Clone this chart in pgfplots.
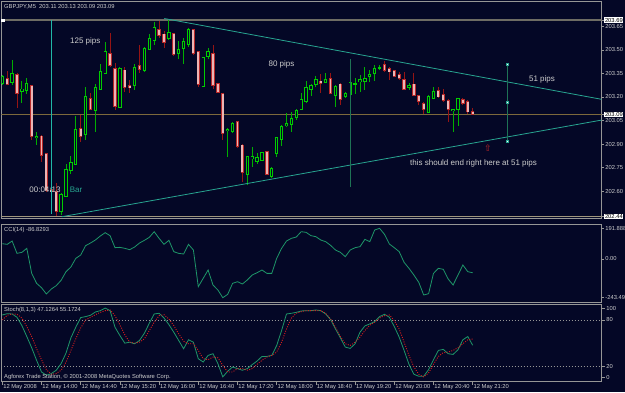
\documentclass[border=0pt]{standalone}
\usepackage{pgfplots}
\pgfplotsset{compat=1.18}
\usepackage{pgfplotstable}
\usepackage{fontspec}
\setmainfont{Liberation Sans}
\newfontfamily\symfont{DejaVu Sans}
\definecolor{bg}{RGB}{4,7,38}
\definecolor{frame}{RGB}{150,150,150}
\definecolor{txt}{RGB}{205,205,205}
\definecolor{bullc}{RGB}{0,205,0}
\definecolor{bullw}{RGB}{0,175,0}
\definecolor{bearc}{RGB}{185,40,40}
\definecolor{bearf}{RGB}{235,180,180}
\definecolor{bearw}{RGB}{150,20,20}
\definecolor{tealA}{RGB}{40,165,145}
\definecolor{tealB}{RGB}{30,115,85}
\definecolor{ind}{RGB}{30,150,105}
\definecolor{sig}{RGB}{210,30,30}
\definecolor{hlineA}{RGB}{110,108,100}
\definecolor{hlineB}{RGB}{160,150,125}
\definecolor{bidline}{RGB}{125,105,60}
\newcommand{\smallf}{\fontsize{5.8}{7}\selectfont}
\newcommand{\annf}{\fontsize{8}{9.5}\selectfont}

\pgfplotstableread{
i o h l c
0 203.287 203.340 203.276 203.329
2 203.291 203.436 203.276 203.351
4 203.234 203.302 203.160 203.251
5 203.240 203.319 203.223 203.283
7 202.941 202.979 202.894 202.947
12 202.470 202.591 202.448 202.582
13 202.569 202.777 202.565 202.739
14 202.731 202.824 202.709 202.782
15 202.771 203.079 202.767 202.994
17 202.962 203.261 202.926 203.202
19 203.113 203.283 202.979 203.259
20 203.249 203.408 203.244 203.363
21 203.351 203.552 203.346 203.491
24 203.132 203.393 203.128 203.382
27 203.272 203.410 203.244 203.389
29 203.368 203.516 203.361 203.510
30 203.503 203.605 203.499 203.574
31 203.559 203.680 203.531 203.644
34 203.574 203.690 203.567 203.612
36 203.478 203.559 203.440 203.503
37 203.510 203.574 203.414 203.550
38 203.535 203.637 203.520 203.631
41 203.270 203.457 203.266 203.452
42 203.461 203.510 203.446 203.489
46 202.985 203.000 202.820 202.994
47 202.979 203.043 202.973 203.032
50 202.709 202.824 202.639 202.820
51 202.809 202.884 202.752 202.820
52 202.788 202.841 202.773 202.813
53 202.799 202.852 202.794 202.845
55 202.697 202.752 202.682 202.746
56 202.841 202.947 202.820 202.943
57 202.930 203.022 202.888 203.015
58 203.017 203.100 203.007 203.032
59 203.022 203.106 202.979 203.064
60 203.070 203.121 203.053 203.117
61 203.121 203.223 203.117 203.185
62 203.170 203.304 203.164 203.261
63 203.249 203.283 203.206 203.274
64 203.278 203.334 203.266 203.314
66 203.291 203.351 203.287 203.314
68 203.213 203.276 203.138 203.270
70 203.202 203.234 203.196 203.223
71 203.213 203.298 203.206 203.291
72 203.283 203.319 203.223 203.287
73 203.298 203.340 203.234 203.314
74 203.298 203.389 203.244 203.321
75 203.329 203.372 203.298 203.346
76 203.351 203.404 203.302 203.382
77 203.385 203.404 203.372 203.389
83 203.261 203.291 203.244 203.274
87 203.100 203.213 203.096 203.206
88 203.191 203.261 203.185 203.234
92 203.113 203.126 202.979 203.121
93 203.121 203.198 203.015 203.191
}\bull

\pgfplotstableread{
i o h l c
1 203.319 203.365 203.276 203.283
3 203.344 203.351 203.132 203.223
6 203.274 203.278 202.926 202.951
8 202.951 202.958 202.788 202.830
9 202.837 202.841 202.597 202.608
10 202.608 202.612 202.586 202.597
11 202.597 202.654 202.442 202.470
16 203.000 203.085 202.915 202.951
18 203.191 203.223 203.117 203.121
22 203.478 203.605 203.393 203.404
23 203.382 203.414 203.117 203.138
25 203.372 203.393 203.234 203.261
26 203.272 203.312 203.227 203.259
28 203.399 203.531 203.351 203.378
32 203.631 203.684 203.578 203.595
33 203.601 203.622 203.510 203.548
35 203.605 203.610 203.461 203.472
39 203.627 203.631 203.467 203.478
40 203.489 203.493 203.266 203.283
43 203.478 203.531 203.255 203.276
44 203.283 203.287 203.223 203.230
45 203.223 203.227 202.926 202.968
48 203.043 203.047 202.879 202.884
49 202.894 202.898 202.661 202.720
54 202.852 202.856 202.705 202.709
65 203.302 203.346 203.223 203.287
67 203.319 203.351 203.219 203.223
69 203.283 203.291 203.149 203.185
78 203.404 203.431 203.361 203.368
79 203.382 203.393 203.308 203.361
80 203.368 203.372 203.329 203.334
81 203.344 203.361 203.308 203.319
82 203.312 203.361 203.244 203.249
84 203.283 203.351 203.206 203.213
85 203.206 203.213 203.149 203.170
86 203.160 203.170 203.092 203.121
89 203.240 203.261 203.191 203.202
90 203.213 203.249 203.170 203.181
91 203.177 203.191 203.043 203.121
94 203.185 203.191 203.149 203.160
95 203.170 203.181 203.092 203.106
96 203.110 203.130 203.090 203.090
}\bear

\pgfplotstableread{
i cci sk sd
0 95.5 86.4 79.9
1 91.4 88.1 86.0
2 112.3 87.7 87.7
3 34.9 83.4 87.3
4 41.2 72.6 82.5
5 66.3 58.4 71.4
6 -90.6 43.8 58.4
7 -153.3 27.5 42.5
8 -180.5 12.4 28.3
9 -220.2 8.1 15.4
10 -188.9 10.3 9.4
11 -168.0 14.6 10.3
12 -134.5 23.2 14.6
13 -80.1 36.9 24.9
14 -50.8 56.7 40.4
15 3.5 70.5 55.4
16 24.4 83.0 69.6
17 83.0 84.3 79.9
18 99.7 86.0 83.4
19 118.6 90.3 86.8
20 143.6 92.0 89.8
21 164.6 95.4 92.0
22 145.7 92.0 92.9
23 70.5 70.5 85.5
24 72.5 59.7 73.5
25 66.3 49.8 60.6
26 57.9 51.1 51.1
27 74.6 49.0 49.8
28 99.7 53.3 51.1
29 116.5 62.7 55.4
30 135.3 75.7 66.2
31 170.8 87.7 77.0
32 129.0 88.6 85.5
33 91.4 82.5 86.8
34 116.5 73.9 81.2
35 45.4 64.0 72.6
36 34.9 53.3 61.9
37 30.7 42.5 52.4
38 91.4 54.2 49.0
39 55.8 51.1 49.0
40 -174.2 29.6 40.4
41 -121.9 25.3 29.6
42 -69.7 33.9 28.3
43 -163.8 36.1 31.8
44 -195.1 23.2 30.9
45 -243.4 6.0 21.0
46 -222.3 13.3 12.4
47 -153.3 18.9 12.4
48 -142.9 16.7 16.7
49 -157.5 14.6 16.7
50 -132.4 16.7 14.6
51 -101.0 21.9 16.7
52 -86.4 26.6 22.3
53 -69.7 32.6 27.5
54 -90.6 32.6 31.8
55 -90.6 33.9 33.9
56 3.5 46.8 38.2
57 66.3 66.2 51.1
58 112.3 87.7 68.3
59 129.0 88.6 82.5
60 137.4 89.8 88.6
61 170.8 91.6 90.7
62 166.7 92.0 92.0
63 145.7 92.0 92.0
64 139.5 92.9 92.0
65 118.6 92.0 92.0
66 108.1 87.7 88.6
67 85.1 80.4 81.2
68 55.8 68.3 70.5
69 41.2 56.7 58.4
70 14.0 44.7 49.0
71 55.8 43.0 46.8
72 70.5 49.0 51.1
73 76.7 64.0 57.6
74 122.7 72.2 66.2
75 108.1 74.8 73.1
76 181.3 77.8 77.0
77 191.9 84.3 82.5
78 154.1 87.3 85.5
79 93.5 83.4 86.4
80 70.5 71.4 79.1
81 45.4 57.6 68.3
82 -21.6 40.4 51.1
83 -59.2 22.3 33.9
84 -101.0 9.4 18.9
85 -147.0 6.8 9.4
86 -226.5 6.8 6.0
87 -218.1 15.4 11.1
88 -90.6 28.3 22.3
89 -59.2 40.4 32.6
90 -65.5 41.7 37.4
91 -126.1 36.1 38.2
92 -163.8 35.2 40.4
93 -101.0 41.2 43.8
94 -38.3 54.2 49.0
95 -80.1 58.4 54.2
96 -86.8 47.1 55.2
}\ind

\pgfplotsset{mt/.style={scale only axis, width=600.2pt, xmin=-0.163, xmax=122.33,
  axis line style={frame, line width=0.8pt}, axis background/.style={fill=bg},
  xtick=\empty, ytick pos=right, yticklabel pos=right, tick align=outside,
  major tick length=2pt, tick style={frame, line width=0.6pt},
  yticklabel style={font=\smallf, text=txt, anchor=west, inner sep=1pt, xshift=0.5pt},
  /pgf/number format/assume math mode=true, scaled y ticks=false}}

\begin{document}
\begin{tikzpicture}[x=1pt,y=1pt]
\fill[bg] (0pt,0pt) rectangle (625pt,-392pt);
\useasboundingbox (0pt,0pt) rectangle (625pt,-392pt);
\clip (0pt,0pt) rectangle (625pt,-392pt);

% ---------------- main price panel
\begin{axis}[mt, at={(1.5pt,-1.7pt)}, anchor=north west, height=216.3pt,
  ymin=202.429, ymax=203.807,
  ytick={202.60,202.75,202.90,203.05,203.20,203.35,203.50,203.65},
  yticklabel style={/pgf/number format/fixed, /pgf/number format/fixed zerofill, /pgf/number format/precision=2},
  extra y ticks={202.44,203.09,203.69},
  extra y tick style={yticklabel style={fill=white, text=black, inner sep=0.6pt, xshift=0pt}}]
\addplot[hlineA, line width=1.4pt, forget plot] coordinates {(-0.163,203.69) (122.33,203.69)};
\addplot[hlineB, line width=1pt, forget plot] coordinates {(-0.163,202.44) (122.33,202.44)};
\addplot[bidline, line width=0.8pt, forget plot] coordinates {(-0.163,203.09) (122.33,203.09)};
\addplot[only marks, mark=square*, mark size=1.2pt, mark options={fill=white, draw=white}, forget plot] coordinates {(0.08,203.69)};
% wicks
\addplot[draw=none, mark=none, forget plot, error bars/.cd, y dir=both, y explicit, error mark=none,
  error bar style={draw=bullw, line width=0.9pt}]
  table[x=i, y expr={(\thisrow{h}+\thisrow{l})/2}, y error expr={(\thisrow{h}-\thisrow{l})/2}] {\bull};
\addplot[draw=none, mark=none, forget plot, error bars/.cd, y dir=both, y explicit, error mark=none,
  error bar style={draw=bearw, line width=0.9pt}]
  table[x=i, y expr={(\thisrow{h}+\thisrow{l})/2}, y error expr={(\thisrow{h}-\thisrow{l})/2}] {\bear};
% bodies
\addplot[draw=none, mark=none, forget plot, error bars/.cd, y dir=both, y explicit, error mark=none,
  error bar style={draw=bullc, line width=3.3pt}]
  table[x=i, y expr={(\thisrow{o}+\thisrow{c})/2}, y error expr={abs(\thisrow{c}-\thisrow{o})/2+0.0035}] {\bull};
\addplot[draw=none, mark=none, forget plot, error bars/.cd, y dir=both, y explicit, error mark=none,
  error bar style={draw=bg, line width=1.4pt}]
  table[x=i, y expr={(\thisrow{o}+\thisrow{c})/2}, y error expr={max(abs(\thisrow{c}-\thisrow{o})/2-0.0028,0)}] {\bull};
\addplot[draw=none, mark=none, forget plot, error bars/.cd, y dir=both, y explicit, error mark=none,
  error bar style={draw=bearc, line width=3.3pt}]
  table[x=i, y expr={(\thisrow{o}+\thisrow{c})/2}, y error expr={abs(\thisrow{c}-\thisrow{o})/2+0.0035}] {\bear};
\addplot[draw=none, mark=none, forget plot, error bars/.cd, y dir=both, y explicit, error mark=none,
  error bar style={draw=bearf, line width=1.8pt}]
  table[x=i, y expr={(\thisrow{o}+\thisrow{c})/2}, y error expr={max(abs(\thisrow{c}-\thisrow{o})/2-0.002,0)}] {\bear};
% drawn objects
\addplot[tealA, line width=0.8pt, forget plot] coordinates {(33.06,203.70) (122.33,203.185)};
\addplot[tealA, line width=0.8pt, forget plot] coordinates {(12.1,202.437) (122.33,203.053)};
\addplot[tealA!80!cyan, line width=0.6pt, forget plot] coordinates {(10.0,203.69) (10.0,202.455)};
\addplot[tealB, line width=1pt, forget plot] coordinates {(71.0,203.440) (71.0,202.624)};
\addplot[tealB, line width=1pt, mark=square*, mark size=1.2pt, mark options={fill=white, draw=tealA}, forget plot]
  coordinates {(103.1,203.408) (103.1,203.166) (103.1,202.917)};
\end{axis}

% ---------------- CCI panel
\begin{axis}[mt, at={(1.5pt,-224.3pt)}, anchor=north west, height=78.2pt,
  ymin=-273.5, ymax=217.1,
  ytick={-243.499,0,191.888}, yticklabels={-243.499,0.00,191.888}]
\addplot[ind, line width=0.8pt, mark=none] table[x=i, y=cci] {\ind};
\end{axis}

% ---------------- Stochastic panel
\begin{axis}[mt, at={(1.5pt,-304.5pt)}, anchor=north west, height=77pt,
  ymin=0, ymax=100, ytick={20,80},
  extra y ticks={5,95}, extra y tick labels={0,100},
  xtick={0,8,...,96}, xtick pos=bottom, major tick length=3pt,
  xticklabels={12 May 2008,12 May 14:00,12 May 14:40,12 May 15:20,12 May 16:00,12 May 16:40,12 May 17:20,12 May 18:00,12 May 18:40,12 May 19:20,12 May 20:00,12 May 20:40,12 May 21:20},
  xticklabel style={font=\smallf, text=txt, anchor=north west, inner sep=0.5pt, xshift=0.3pt, yshift=0.3pt}]
\addplot[frame, line width=0.7pt, dash pattern=on 1pt off 2pt, forget plot] coordinates {(-0.163,80) (122.33,80)};
\addplot[frame, line width=0.7pt, dash pattern=on 1pt off 2pt, forget plot] coordinates {(-0.163,20) (122.33,20)};
\addplot[ind, line width=0.8pt, mark=none] table[x=i, y=sk] {\ind};
\addplot[sig, line width=0.9pt, dash pattern=on 1pt off 1.4pt, mark=none] table[x=i, y=sd] {\ind};
\end{axis}

% ---------------- texts
\node[anchor=west, font=\smallf, text=txt, inner sep=0] at (4pt,-7pt) {GBPJPY,M5\ \ 203.11 203.13 203.09 203.09};
\node[font=\annf, text=txt, inner sep=0] at (85.3pt,-41.7pt) {125 pips};
\node[font=\annf, text=txt, inner sep=0] at (281.5pt,-64pt) {80 pips};
\node[font=\annf, text=txt, inner sep=0] at (542pt,-79.5pt) {51 pips};
\node[font=\annf, text=txt, inner sep=0] at (45pt,-190pt) {00:04:13};
\node[font=\annf, text=tealA, inner sep=0] at (76pt,-190pt) {Bar};
\node[anchor=west, font=\annf, text=txt, inner sep=0] at (410pt,-163.5pt) {this should end right here at 51 pips};
\node[font=\symfont\fontsize{9}{10}\selectfont, text=bearc, inner sep=0] at (488pt,-148pt) {⇧};
\node[anchor=west, font=\smallf, text=txt, inner sep=0] at (4pt,-229.5pt) {CCI(14) -86.8293};
\node[anchor=west, font=\smallf, text=txt, inner sep=0] at (4pt,-310pt) {Stoch(8,1,3) 47.1264 55.1724};
\node[anchor=west, font=\smallf, text=txt, inner sep=0] at (4pt,-377pt) {Agforex Trade Station, © 2001-2008 MetaQuotes Software Corp.};
\end{tikzpicture}
\end{document}
